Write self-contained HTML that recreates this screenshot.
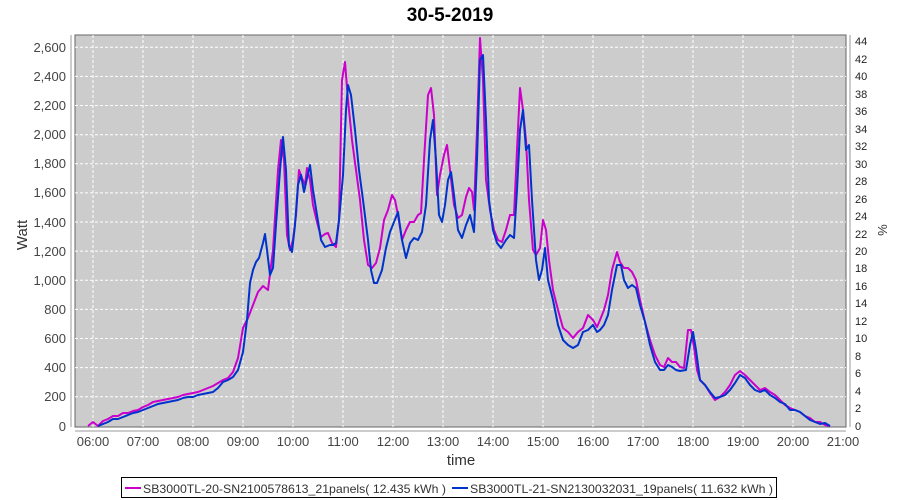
<!DOCTYPE html>
<html><head><meta charset="utf-8"><style>
body{margin:0;background:#fff;}
svg{display:block;font-family:"Liberation Sans",sans-serif;}
</style></head><body>
<svg width="900" height="500" xmlns="http://www.w3.org/2000/svg">
<text x="450" y="21" font-size="19" font-weight="bold" text-anchor="middle" fill="#000">30-5-2019</text>
<rect x="75" y="35" width="771" height="392" fill="#cccccc" stroke="#666" stroke-width="1"/>
<g stroke="#fff" stroke-dasharray="3,2" stroke-width="1">
<line x1="75" x2="846" y1="47.3" y2="47.3"/><line x1="75" x2="846" y1="76.4" y2="76.4"/><line x1="75" x2="846" y1="105.5" y2="105.5"/><line x1="75" x2="846" y1="134.7" y2="134.7"/><line x1="75" x2="846" y1="163.8" y2="163.8"/><line x1="75" x2="846" y1="192.9" y2="192.9"/><line x1="75" x2="846" y1="222" y2="222"/><line x1="75" x2="846" y1="251.1" y2="251.1"/><line x1="75" x2="846" y1="280.2" y2="280.2"/><line x1="75" x2="846" y1="309.4" y2="309.4"/><line x1="75" x2="846" y1="338.5" y2="338.5"/><line x1="75" x2="846" y1="367.6" y2="367.6"/><line x1="75" x2="846" y1="396.7" y2="396.7"/>
<line y1="35" y2="427" x1="93" x2="93"/><line y1="35" y2="427" x1="143" x2="143"/><line y1="35" y2="427" x1="193" x2="193"/><line y1="35" y2="427" x1="243" x2="243"/><line y1="35" y2="427" x1="293" x2="293"/><line y1="35" y2="427" x1="343" x2="343"/><line y1="35" y2="427" x1="393" x2="393"/><line y1="35" y2="427" x1="443" x2="443"/><line y1="35" y2="427" x1="493" x2="493"/><line y1="35" y2="427" x1="543" x2="543"/><line y1="35" y2="427" x1="593" x2="593"/><line y1="35" y2="427" x1="643" x2="643"/><line y1="35" y2="427" x1="693" x2="693"/><line y1="35" y2="427" x1="743" x2="743"/><line y1="35" y2="427" x1="793" x2="793"/>
</g>
<g stroke="#999"><line x1="71" x2="71" y1="35" y2="427"/><line x1="75" x2="846" y1="431" y2="431"/><line x1="850" x2="850" y1="35" y2="427"/></g>
<g font-size="13" fill="#444" text-anchor="end">
<text x="66" y="52">2,600</text><text x="66" y="81">2,400</text><text x="66" y="110">2,200</text><text x="66" y="139">2,000</text><text x="66" y="168">1,800</text><text x="66" y="197">1,600</text><text x="66" y="227">1,400</text><text x="66" y="256">1,200</text><text x="66" y="285">1,000</text><text x="66" y="314">800</text><text x="66" y="343">600</text><text x="66" y="372">400</text><text x="66" y="401">200</text><text x="66" y="431">0</text>
</g>
<g font-size="11" fill="#222">
<text x="855" y="45">44</text><text x="855" y="63">42</text><text x="855" y="80">40</text><text x="855" y="98">38</text><text x="855" y="115">36</text><text x="855" y="133">34</text><text x="855" y="150">32</text><text x="855" y="168">30</text><text x="855" y="185">28</text><text x="855" y="203">26</text><text x="855" y="220">24</text><text x="855" y="238">22</text><text x="855" y="255">20</text><text x="855" y="272">18</text><text x="855" y="290">16</text><text x="855" y="307">14</text><text x="855" y="325">12</text><text x="855" y="342">10</text><text x="855" y="360">8</text><text x="855" y="377">6</text><text x="855" y="395">4</text><text x="855" y="412">2</text><text x="855" y="430">0</text>
</g>
<g font-size="13" fill="#444" text-anchor="middle">
<text x="93" y="446">06:00</text><text x="143" y="446">07:00</text><text x="193" y="446">08:00</text><text x="243" y="446">09:00</text><text x="293" y="446">10:00</text><text x="343" y="446">11:00</text><text x="393" y="446">12:00</text><text x="443" y="446">13:00</text><text x="493" y="446">14:00</text><text x="543" y="446">15:00</text><text x="593" y="446">16:00</text><text x="643" y="446">17:00</text><text x="693" y="446">18:00</text><text x="743" y="446">19:00</text><text x="793" y="446">20:00</text><text x="843" y="446">21:00</text>
</g>
<text x="461" y="465" font-size="15" fill="#333" text-anchor="middle">time</text>
<text transform="translate(27,235) rotate(-90)" font-size="15" fill="#333" text-anchor="middle">Watt</text>
<text transform="translate(878,230) rotate(90)" font-size="13" fill="#333" text-anchor="middle">%</text>
<polyline fill="none" stroke="#cc00cc" stroke-width="2" stroke-linejoin="round" points="88,426 93,422 98,426 103,421 108,419 113,416 118,416 123,413 128,413 133,411 138,410 143,407 148,405 153,402 158,401 163,400 168,399 173,398 178,397 183,395 188,394 193,393 198,392 203,390 208,388 213,386 218,383 223,380 228,378 233,372 238,358 243,328 248,318 253,305 258,292 263,286 268,290 273,250 278,170 281,140 284,160 287,235 290,250 293,240 296,215 299,170 302,178 305,185 307,168 310,180 313,205 317,222 321,237 325,234 328,233 332,243 336,247 339,220 342,80 345,62 348,100 352,140 356,170 360,200 364,240 368,265 372,268 376,263 380,248 384,220 388,210 392,195 395,200 398,215 402,240 406,230 410,222 414,222 418,215 421,213 424,160 428,95 431,88 434,115 437,195 440,175 444,155 447,145 450,170 454,205 458,218 462,215 466,197 469,188 472,192 474,210 477,130 480,38 483,80 486,180 490,210 494,230 498,240 502,242 506,230 510,215 514,215 517,150 520,88 523,110 526,140 529,200 533,250 536,255 540,248 543,220 546,230 549,260 553,290 558,310 563,328 568,332 573,338 578,332 583,328 588,315 593,320 597,327 600,320 604,310 608,295 612,270 617,252 620,262 624,268 628,268 632,272 636,280 640,300 645,322 650,340 655,355 660,365 664,367 668,358 672,362 676,362 680,367 684,368 688,330 691,330 694,347 697,370 700,380 705,385 710,393 715,400 720,397 725,392 730,385 735,375 740,371 745,375 750,380 755,385 760,390 765,388 770,392 775,395 780,400 785,405 790,408 795,410 800,412 805,416 810,418 815,422 820,422 825,425 830,426"/>
<polyline fill="none" stroke="#0033cc" stroke-width="2" stroke-linejoin="round" points="98,426 103,424 108,422 113,419 118,419 123,417 128,415 133,413 138,412 143,410 148,408 153,406 158,404 163,403 168,402 173,401 178,400 183,398 188,397 193,397 198,395 203,394 208,393 213,392 218,388 223,382 228,380 233,377 238,370 243,352 247,320 250,283 253,270 256,262 259,258 263,243 265,234 267,250 270,275 273,268 276,225 280,170 283,137 286,170 289,246 292,252 295,225 298,185 301,175 304,192 307,178 310,165 313,190 317,215 321,240 325,247 330,245 333,245 336,243 339,220 343,175 346,110 348,85 351,95 355,130 359,170 363,200 368,240 371,270 374,283 377,283 382,270 386,248 390,232 394,222 398,212 402,240 406,258 410,243 414,238 418,240 422,232 426,205 430,140 433,120 436,160 439,215 442,222 445,205 448,180 451,172 454,195 458,230 462,238 466,225 470,215 474,232 477,160 480,60 483,55 486,120 489,200 493,230 497,243 501,248 506,240 510,235 514,238 517,190 520,130 523,110 526,150 529,145 532,200 536,260 539,280 542,270 545,248 548,280 553,300 558,325 563,340 568,345 573,348 578,345 583,332 588,330 593,325 597,332 600,330 604,325 608,315 612,290 617,265 621,265 624,280 628,288 632,285 636,288 640,305 645,322 650,345 655,362 660,370 664,370 668,365 672,367 676,370 680,371 686,370 690,345 693,332 696,350 700,380 705,385 710,392 715,398 720,397 725,395 730,390 735,383 740,375 745,378 750,385 755,390 760,392 765,390 770,395 775,398 780,402 785,404 790,410 795,410 800,412 805,416 810,420 815,422 820,424 825,423 830,426"/>
<rect x="121.5" y="477.5" width="655" height="20" fill="#fff" stroke="#000"/>
<line x1="125" x2="141" y1="488" y2="488" stroke="#cc00cc" stroke-width="2"/>
<text x="143" y="493" font-size="12" fill="#333" textLength="303" lengthAdjust="spacingAndGlyphs">SB3000TL-20-SN2100578613_21panels( 12.435 kWh )</text>
<line x1="452" x2="468" y1="488" y2="488" stroke="#0033cc" stroke-width="2"/>
<text x="470" y="493" font-size="12" fill="#333" textLength="303" lengthAdjust="spacingAndGlyphs">SB3000TL-21-SN2130032031_19panels( 11.632 kWh )</text>
</svg>
</body></html>
